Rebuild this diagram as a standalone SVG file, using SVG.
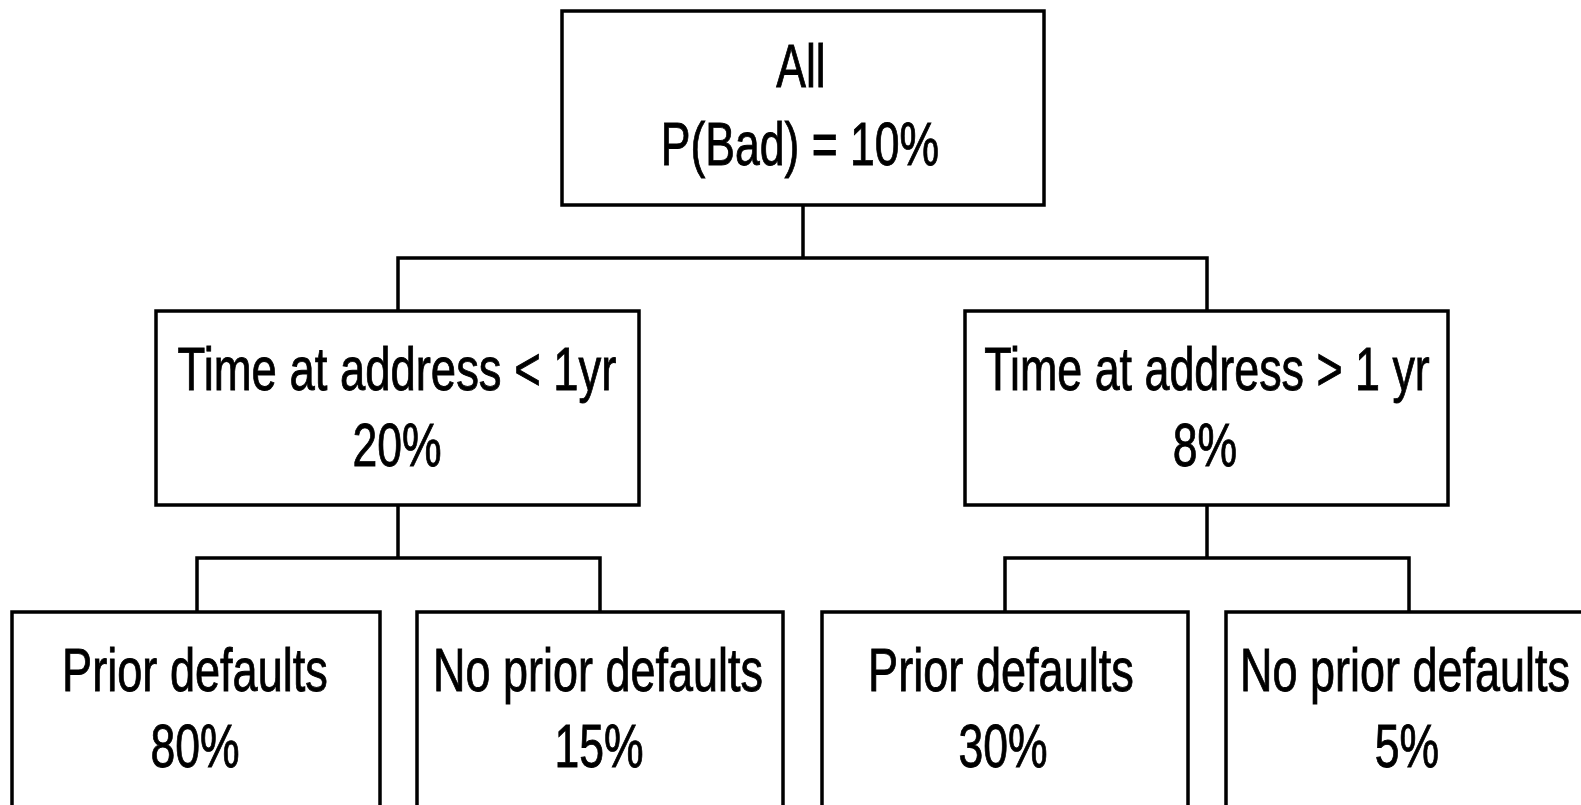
<svg xmlns="http://www.w3.org/2000/svg" width="1581" height="805" viewBox="0 0 1581 805">
  <style>
    .box { fill: #ffffff; stroke: #000000; stroke-width: 3.5; }
    .link { fill: none; stroke: #000000; stroke-width: 3.5; stroke-linejoin: miter; }
    .label { font-family: "Liberation Sans", Arial, sans-serif; font-size: 61px; fill: #000000; stroke: #000000; stroke-width: 0.9; text-anchor: middle; }
  </style>
  <rect width="1581" height="805" fill="#ffffff"/>

  <!-- tree connectors -->
  <g id="connectors">
    <path class="link" d="M803,205 V258 M398,311 V258 H1207 V311"/>
    <path class="link" d="M398,505 V558 M197,612 V558 H600 V612"/>
    <path class="link" d="M1207,505 V558 M1005,612 V558 H1409 V612"/>
  </g>

  <!-- root; labels use a condensed face: regular sans squeezed horizontally -->
  <g id="node-all">
    <rect class="box" x="562" y="11" width="482" height="194"/>
    <text class="label" x="0" y="87" transform="translate(801 0) scale(0.73 1)">All</text>
    <text class="label" x="0" y="165" transform="translate(800 0) scale(0.73 1)">P(Bad) = 10%</text>
  </g>

  <!-- second level -->
  <g id="node-lt1yr">
    <rect class="box" x="156" y="311" width="483" height="194"/>
    <text class="label" x="0" y="390" transform="translate(397 0) scale(0.745 1)">Time at address &lt; 1yr</text>
    <text class="label" x="0" y="466" transform="translate(397 0) scale(0.73 1)">20%</text>
  </g>
  <g id="node-gt1yr">
    <rect class="box" x="965" y="311" width="483" height="194"/>
    <text class="label" x="0" y="390" transform="translate(1207 0) scale(0.735 1)">Time at address &gt; 1 yr</text>
    <text class="label" x="0" y="466" transform="translate(1205 0) scale(0.73 1)">8%</text>
  </g>

  <!-- leaves -->
  <g id="node-lt1yr-prior">
    <rect class="box" x="12" y="612" width="368" height="220"/>
    <text class="label" x="0" y="691" transform="translate(195 0) scale(0.74 1)">Prior defaults</text>
    <text class="label" x="0" y="767" transform="translate(195 0) scale(0.73 1)">80%</text>
  </g>
  <g id="node-lt1yr-noprior">
    <rect class="box" x="417" y="612" width="366" height="220"/>
    <text class="label" x="0" y="691" transform="translate(598 0) scale(0.737 1)">No prior defaults</text>
    <text class="label" x="0" y="767" transform="translate(599 0) scale(0.73 1)">15%</text>
  </g>
  <g id="node-gt1yr-prior">
    <rect class="box" x="822" y="612" width="366" height="220"/>
    <text class="label" x="0" y="691" transform="translate(1001 0) scale(0.74 1)">Prior defaults</text>
    <text class="label" x="0" y="767" transform="translate(1003 0) scale(0.73 1)">30%</text>
  </g>
  <g id="node-gt1yr-noprior">
    <rect class="box" x="1226" y="612" width="368" height="220"/>
    <text class="label" x="0" y="691" transform="translate(1405 0) scale(0.737 1)">No prior defaults</text>
    <text class="label" x="0" y="767" transform="translate(1407 0) scale(0.73 1)">5%</text>
  </g>
</svg>
